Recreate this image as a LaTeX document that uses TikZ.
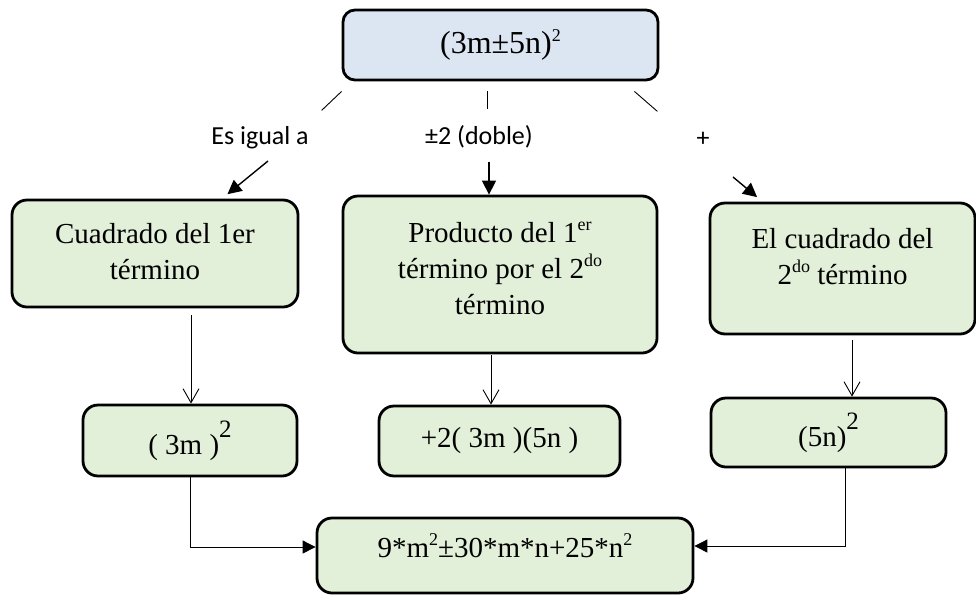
\documentclass[tikz,border=0pt]{standalone}
\usepackage{fontspec}
\setmainfont{Liberation Serif}
\newfontfamily\cajafont{Liberation Serif}
\newfontfamily\labfont{Carlito}
\usetikzlibrary{arrows.meta}
\usepackage{xcolor}
\definecolor{cajaazul}{HTML}{DCE6F2}
\definecolor{cajaverde}{HTML}{E2EFD9}
\newcommand{\supi}[1]{\raisebox{12pt}{\cajafont\fontsize{18}{18}\selectfont #1}}
\newcommand{\supgrande}[1]{\raisebox{17pt}{\cajafont\fontsize{25}{25}\selectfont #1}}
\newcommand{\lineas}[1]{\begin{tabular}[t]{@{}c@{}}#1\end{tabular}}

\begin{document}
\begin{tikzpicture}[x=1pt, y=-1pt,
  caja/.style={draw, line width=2.8pt, rounded corners=15pt, fill=cajaverde,
    inner sep=0pt, font=\cajafont\fontsize{29}{36}\selectfont},
  etiqueta/.style={font=\labfont\fontsize{26}{30}\selectfont, inner sep=2pt},
  tri/.style={-{Triangle[length=14pt,width=14pt]}, line width=1.4pt},
  flecha/.style={-{Triangle[length=13pt,width=13pt]}, line width=0.9pt},
  abierta/.style={-{Straight Barb[length=14pt,width=16pt]}, line width=0.9pt},
  tramo/.style={line width=0.9pt}]
\useasboundingbox (0,0) rectangle (976,595);

% binomio
\node[caja, fill=cajaazul, rounded corners=12pt, minimum width=315pt, minimum height=70pt,
  font=\cajafont\fontsize{32}{38}\selectfont] (bin) at (500.5,45) {(3m±5n)\supi{2}};

% etiquetas
\node[etiqueta] (l1) at (260,138) {Es igual a};
\node[etiqueta] (l2) at (479,137) {±2 (doble)};
\node[etiqueta] (l3) at (703,139) {+};

% terminos
\node[caja, minimum width=286pt, minimum height=107pt, text height=25.2pt, text depth=46.2pt] (c1) at (155,253.5)
  {\lineas{Cuadrado del 1er\\término}};
\node[caja, minimum width=314pt, minimum height=157pt, text height=25.2pt, text depth=90pt] (c2) at (500,274.5)
  {\lineas{Producto del 1\supi{er}\\término por el 2\supi{do}\\término}};
\node[caja, minimum width=265pt, minimum height=131pt, text height=25.2pt, text depth=66pt] (c3) at (842.5,268.5)
  {\lineas{El cuadrado del\\2\supi{do} término}};

% resultados
\node[caja, minimum width=214pt, minimum height=71pt] (r1) at (190,440.5) {( 3m )\supgrande{2}};
\node[caja, minimum width=241pt, minimum height=70pt] (r2) at (499.5,441) {+2( 3m )(5n )};
\node[caja, minimum width=235pt, minimum height=69pt] (r3) at (828.5,432.5) {(5n)\supgrande{2}};
\node[caja, minimum width=376pt, minimum height=75pt, text height=20pt, text depth=17pt] (fin) at (505,555.5)
  {9*m\supi{2}±30*m*n+25*n\supi{2}};

% tramos del binomio
\draw[tramo] ([yshift=-10pt]bin.south west) -- ++(-20,19);
\draw[tramo] ([xshift=-13.5pt, yshift=-10pt]bin.south) -- ++(0,18);
\draw[tramo] ([xshift=-25pt, yshift=-10pt]bin.south east) -- ++(23,20);

% flechas hacia los terminos
\coordinate (f1) at (268,161);
\coordinate (f2) at (489,162);
\coordinate (f3) at (733,177);
\draw[tri, shorten >=7pt] (f1) -- (c1);
\draw[tri] (f2) -- (f2 |- c2.north);
\draw[tri, shorten >=7pt] (f3) -- (c3);

% bajadas
\coordinate (v1) at (191,315);
\coordinate (v2) at (491,355);
\coordinate (v3) at (852,340);
\draw[abierta] (v1) -- (v1 |- r1.north);
\draw[abierta] (v2) -- (v2 |- r2.north);
\draw[abierta] (v3) -- (v3 |- r3.north);

% suma final
\draw[flecha] (r1.south) |- ([yshift=8.5pt]fin.west);
\draw[flecha] ([xshift=16.5pt]r3.south) |- ([yshift=9.5pt]fin.east);
\end{tikzpicture}
\end{document}
